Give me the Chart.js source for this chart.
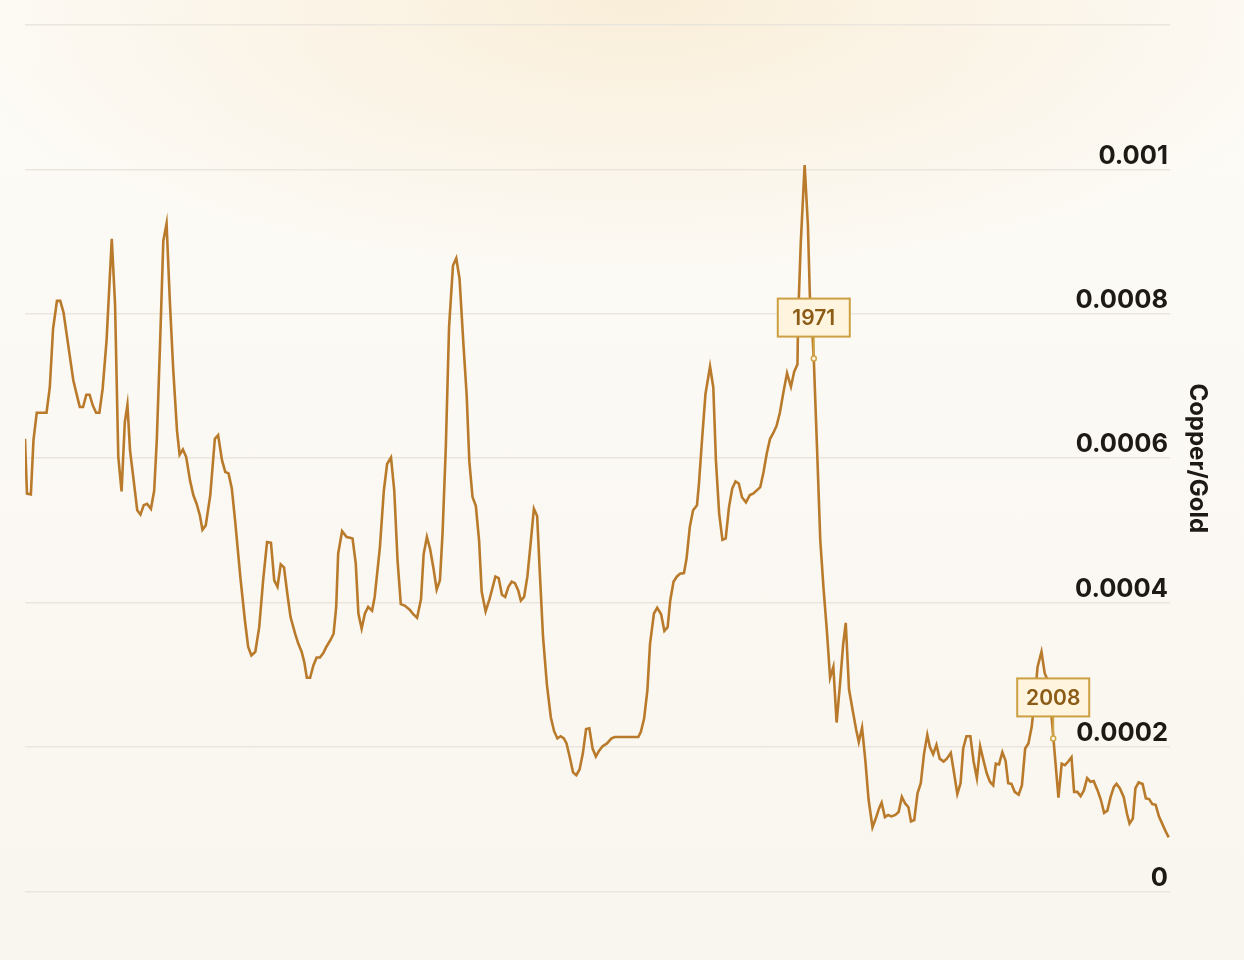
<!DOCTYPE html>
<html>
<head>
<meta charset="utf-8">
<script src="https://cdn.jsdelivr.net/npm/chart.js@4.4.1/dist/chart.umd.min.js"></script>
<style>
  html, body { margin: 0; padding: 0; }
  body {
    width: 1244px; height: 960px; overflow: hidden;
    background:
      radial-gradient(ellipse 720px 280px at 640px 0px, rgba(246, 227, 192, 0.55), rgba(246, 227, 192, 0) 100%),
      linear-gradient(180deg, #fdfbf7 0%, #f9f6ef 100%);
  }
  #wrap { position: relative; width: 1244px; height: 960px; }
</style>
</head>
<body>
<div id="wrap"><canvas id="chart" width="1244" height="960"></canvas></div>
<script>
// copper price / gold price
const years = [
  1850.0, 1850.3, 1850.9, 1851.3, 1851.8, 1853.3, 1853.8, 1854.3, 1854.9, 1855.4,
  1855.9, 1857.4, 1858.2, 1858.4, 1858.9, 1859.4, 1859.9, 1860.4, 1860.9, 1861.4,
  1861.9, 1862.5, 1863.3, 1863.8, 1864.3, 1864.8, 1865.3, 1865.7, 1866.1, 1866.9,
  1867.2, 1867.7, 1868.2, 1868.7, 1869.3, 1869.8, 1870.2, 1870.7, 1871.2, 1871.7,
  1872.2, 1872.7, 1873.3, 1873.7, 1874.2, 1874.7, 1875.3, 1875.8, 1876.3, 1876.8,
  1877.2, 1877.7, 1878.4, 1879.1, 1879.6, 1880.2, 1880.7, 1881.2, 1881.7, 1882.2,
  1883.0, 1883.7, 1884.2, 1884.7, 1885.3, 1885.9, 1886.5, 1887.1, 1887.7, 1888.2,
  1888.7, 1889.2, 1889.7, 1890.2, 1890.7, 1891.4, 1891.9, 1892.4, 1892.8, 1893.2,
  1893.7, 1894.2, 1894.7, 1895.2, 1895.7, 1896.2, 1896.8, 1897.3, 1897.7, 1898.0,
  1898.6, 1899.3, 1899.8, 1900.2, 1900.7, 1901.1, 1901.6, 1902.1, 1902.6, 1903.2,
  1903.6, 1904.4, 1905.0, 1905.5, 1906.1, 1906.6, 1907.1, 1907.6, 1908.2, 1909.0,
  1909.5, 1910.1, 1910.7, 1911.1, 1911.6, 1912.1, 1912.6, 1913.1, 1913.6, 1914.0,
  1914.5, 1915.0, 1915.6, 1916.1, 1916.6, 1917.2, 1917.7, 1918.1, 1918.6, 1919.1,
  1919.6, 1920.0, 1920.6, 1921.2, 1921.7, 1922.1, 1922.6, 1923.1, 1923.6, 1924.1,
  1924.6, 1925.1, 1925.6, 1926.0, 1926.5, 1927.0, 1927.5, 1928.0, 1928.5, 1928.9,
  1929.4, 1930.0, 1930.6, 1931.1, 1931.6, 1932.1, 1932.6, 1933.0, 1933.5, 1934.0,
  1934.5, 1935.0, 1935.5, 1936.0, 1936.5, 1937.0, 1937.5, 1938.0, 1938.5, 1939.2,
  1939.9, 1940.4, 1944.0, 1944.4, 1944.9, 1945.4, 1945.8, 1946.4, 1946.9, 1947.5,
  1948.0, 1948.5, 1948.9, 1949.4, 1949.9, 1950.4, 1951.0, 1951.4, 1951.9, 1952.4,
  1953.0, 1953.3, 1953.8, 1954.3, 1955.0, 1955.5, 1955.9, 1956.4, 1956.9, 1957.4,
  1957.9, 1958.4, 1958.9, 1959.4, 1959.9, 1960.5, 1961.1, 1961.6, 1962.7, 1963.2,
  1963.7, 1964.2, 1964.7, 1965.2, 1965.7, 1966.2, 1966.8, 1967.4, 1967.9, 1968.4,
  1968.5, 1968.9, 1969.5, 1970.0, 1970.3, 1970.7, 1970.9, 1971.4, 1971.9, 1972.4,
  1972.9, 1973.4, 1973.9, 1974.4, 1974.9, 1975.4, 1975.8, 1976.3, 1976.9, 1977.4,
  1977.8, 1978.3, 1978.8, 1979.3, 1979.9, 1980.4, 1980.9, 1981.3, 1981.8, 1982.3,
  1982.8, 1983.4, 1983.9, 1984.4, 1984.9, 1985.4, 1985.8, 1986.3, 1986.8, 1987.3,
  1987.8, 1988.3, 1988.7, 1989.2, 1989.7, 1990.2, 1990.8, 1991.3, 1991.9, 1992.4,
  1992.9, 1993.4, 1993.8, 1994.3, 1994.9, 1995.4, 1995.9, 1996.4, 1996.9, 1997.4,
  1997.9, 1998.4, 1998.8, 1999.3, 1999.8, 2000.3, 2000.7, 2001.2, 2001.7, 2002.3,
  2002.8, 2003.3, 2003.8, 2004.3, 2004.8, 2005.2, 2005.8, 2006.3, 2006.9, 2008.4,
  2008.9, 2009.4, 2009.9, 2010.4, 2010.8, 2011.3, 2011.8, 2012.3, 2012.8, 2013.3,
  2013.8, 2014.4, 2014.9, 2015.4, 2015.9, 2016.4, 2016.9, 2017.3, 2017.8, 2018.4,
  2018.9, 2019.3, 2019.8, 2020.2, 2020.7, 2021.3, 2021.8, 2022.3, 2022.8, 2023.3,
  2023.8, 2024.3, 2024.8, 2025.3
]

const ratio = [
  0.000627, 0.000551, 0.000550, 0.000625, 0.000663, 0.000663, 0.000698, 0.000779, 0.000818, 0.000818,
  0.000802, 0.000708, 0.000678, 0.000671, 0.000671, 0.000688, 0.000688, 0.000673, 0.000663, 0.000663,
  0.000696, 0.000763, 0.000904, 0.000814, 0.000602, 0.000554, 0.000650, 0.000674, 0.000611, 0.000551,
  0.000528, 0.000522, 0.000535, 0.000537, 0.000530, 0.000555, 0.000625, 0.000758, 0.000901, 0.000925,
  0.000818, 0.000726, 0.000638, 0.000605, 0.000612, 0.000602, 0.000569, 0.000549, 0.000537, 0.000521,
  0.000501, 0.000507, 0.000549, 0.000627, 0.000632, 0.000597, 0.000581, 0.000579, 0.000558, 0.000514,
  0.000436, 0.000376, 0.000339, 0.000327, 0.000332, 0.000366, 0.000431, 0.000484, 0.000483, 0.000431,
  0.000422, 0.000453, 0.000449, 0.000413, 0.000380, 0.000357, 0.000343, 0.000332, 0.000318, 0.000296,
  0.000296, 0.000313, 0.000324, 0.000324, 0.000330, 0.000339, 0.000348, 0.000357, 0.000394, 0.000468,
  0.000499, 0.000491, 0.000490, 0.000489, 0.000454, 0.000385, 0.000364, 0.000385, 0.000394, 0.000389,
  0.000408, 0.000477, 0.000555, 0.000592, 0.000601, 0.000555, 0.000459, 0.000398, 0.000396, 0.000390,
  0.000384, 0.000379, 0.000405, 0.000467, 0.000491, 0.000474, 0.000448, 0.000418, 0.000431, 0.000496,
  0.000615, 0.000782, 0.000867, 0.000877, 0.000849, 0.000758, 0.000687, 0.000596, 0.000546, 0.000534,
  0.000486, 0.000415, 0.000388, 0.000405, 0.000422, 0.000436, 0.000434, 0.000411, 0.000408, 0.000422,
  0.000429, 0.000427, 0.000417, 0.000403, 0.000408, 0.000436, 0.000482, 0.000530, 0.000520, 0.000443,
  0.000353, 0.000286, 0.000241, 0.000222, 0.000212, 0.000215, 0.000212, 0.000205, 0.000186, 0.000165,
  0.000161, 0.000169, 0.000191, 0.000225, 0.000226, 0.000198, 0.000187, 0.000195, 0.000201, 0.000205,
  0.000212, 0.000214, 0.000214, 0.000221, 0.000240, 0.000279, 0.000343, 0.000385, 0.000393, 0.000384,
  0.000361, 0.000366, 0.000403, 0.000429, 0.000436, 0.000440, 0.000441, 0.000461, 0.000505, 0.000528,
  0.000535, 0.000565, 0.000629, 0.000689, 0.000727, 0.000698, 0.000597, 0.000523, 0.000487, 0.000489,
  0.000532, 0.000558, 0.000568, 0.000565, 0.000546, 0.000539, 0.000549, 0.000551, 0.000560, 0.000581,
  0.000607, 0.000627, 0.000635, 0.000645, 0.000663, 0.000689, 0.000718, 0.000699, 0.000720, 0.000730,
  0.000794, 0.000897, 0.001006, 0.000923, 0.000825, 0.000771, 0.000738, 0.000614, 0.000486, 0.000419,
  0.000362, 0.000296, 0.000311, 0.000234, 0.000285, 0.000342, 0.000372, 0.000280, 0.000249, 0.000224,
  0.000207, 0.000227, 0.000182, 0.000127, 0.000089, 0.000101, 0.000115, 0.000123, 0.000103, 0.000106,
  0.000104, 0.000106, 0.000110, 0.000131, 0.000122, 0.000117, 0.000097, 0.000099, 0.000136, 0.000150,
  0.000191, 0.000217, 0.000200, 0.000190, 0.000203, 0.000184, 0.000180, 0.000184, 0.000192, 0.000164,
  0.000135, 0.000150, 0.000198, 0.000215, 0.000215, 0.000180, 0.000157, 0.000201, 0.000182, 0.000164,
  0.000152, 0.000147, 0.000177, 0.000176, 0.000193, 0.000181, 0.000150, 0.000149, 0.000138, 0.000134,
  0.000147, 0.000198, 0.000205, 0.000228, 0.000270, 0.000311, 0.000332, 0.000302, 0.000290, 0.000130,
  0.000177, 0.000175, 0.000180, 0.000186, 0.000138, 0.000138, 0.000132, 0.000140, 0.000157, 0.000152,
  0.000153, 0.000140, 0.000127, 0.000109, 0.000112, 0.000131, 0.000145, 0.000149, 0.000143, 0.000131,
  0.000108, 0.000094, 0.000101, 0.000143, 0.000151, 0.000149, 0.000129, 0.000128, 0.000121, 0.000120,
  0.000104, 0.000094, 0.000084, 0.000075
]

const yTicks = [0, 0.0002, 0.0004, 0.0006, 0.0008, 0.001]

const callouts = [
  { text: "1971", year: 1970.9, value: 0.000738 },
  { text: "2008", year: 2007.6, value: 0.000212 }
]

const LINE = "#b97b2b"
const INK = "#1d1914"

// little boxed year labels sitting above a point on the line
const calloutPlugin = {
  id: "callouts",
  afterDatasetsDraw(chart) {
    const ctx = chart.ctx
    const xs = chart.scales.x
    const ys = chart.scales.y
    ctx.save()
    callouts.forEach(c => {
      const px = xs.getPixelForValue(c.year)
      const py = ys.getPixelForValue(c.value)
      const w = 72, h = 38, gap = 22
      const top = py - gap - h

      ctx.strokeStyle = "#cfa548"
      ctx.lineWidth = 2
      ctx.beginPath()
      ctx.moveTo(px, py)
      ctx.lineTo(px, py - gap)
      ctx.stroke()

      ctx.fillStyle = "#fff5de"
      ctx.fillRect(px - w / 2, top, w, h)
      ctx.strokeStyle = "#cc9f42"
      ctx.strokeRect(px - w / 2, top, w, h)

      ctx.fillStyle = "#8c5b16"
      ctx.font = "600 21px Inter, 'Noto Sans', sans-serif"
      ctx.textAlign = "center"
      ctx.textBaseline = "middle"
      ctx.fillText(c.text, px, top + h / 2 + 1)

      ctx.beginPath()
      ctx.arc(px, py, 2.5, 0, Math.PI * 2)
      ctx.fillStyle = "#fff5de"
      ctx.fill()
      ctx.lineWidth = 1.5
      ctx.strokeStyle = "#cfa548"
      ctx.stroke()
    })
    ctx.restore()
  }
}

const points = years.map((yr, i) => ({ x: yr, y: ratio[i] }))

new Chart(document.getElementById("chart"), {
  type: "line",
  data: {
    datasets: [{
      label: "Copper/Gold",
      data: points,
      borderColor: LINE,
      borderWidth: 2.6,
      pointRadius: 0,
      tension: 0,
      fill: false
    }]
  },
  options: {
    responsive: false,
    animation: false,
    layout: {
      padding: { left: 25, right: 31, top: 25, bottom: 68.5 }
    },
    plugins: {
      legend: { display: false },
      tooltip: { enabled: false }
    },
    scales: {
      x: {
        type: "linear",
        display: false,
        min: 1850,
        max: 2025.5
      },
      y: {
        position: "right",
        min: 0,
        max: 0.0012,
        afterBuildTicks(axis) {
          axis.ticks = yTicks.concat([0.0012]).map(v => ({ value: v }))
        },
        border: { display: false },
        grid: {
          color: "#ebe6dd",
          lineWidth: 1.6,
          drawTicks: false
        },
        ticks: {
          mirror: true,
          padding: -2,
          labelOffset: -13.5,
          color: INK,
          font: { family: "Inter, 'Noto Sans', sans-serif", size: 25.5, weight: "700" },
          callback(v) {
            if (!yTicks.includes(v)) return ""
            return v === 0 ? "0" : String(+v.toFixed(4))
          }
        },
        title: {
          display: true,
          text: "Copper/Gold",
          color: INK,
          font: { family: "Inter, 'Noto Sans', sans-serif", size: 24, weight: "700" },
          padding: { top: 1.6, bottom: 16.6 }
        }
      }
    }
  },
  plugins: [calloutPlugin]
})
</script>
</body>
</html>
